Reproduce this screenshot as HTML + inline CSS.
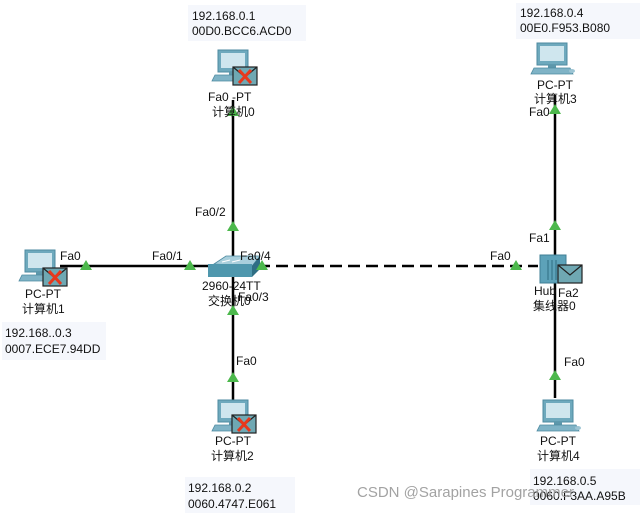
<!DOCTYPE html>
<html><head><meta charset="utf-8"><style>
html,body{margin:0;padding:0;background:#fff;}
svg text{font-family:"Liberation Sans","Noto Sans CJK SC",sans-serif;font-size:12px;fill:#111;}
</style></head><body>
<svg width="640" height="513" viewBox="0 0 640 513" xmlns="http://www.w3.org/2000/svg">
<defs>
<g id="pc">
 <rect x="0" y="0" width="30" height="22" fill="#6ea9bd" stroke="#4d8aa0"/>
 <rect x="3" y="3" width="24" height="15" fill="#cfe6ee"/>
 <rect x="11" y="22" width="8" height="3" fill="#5d97ab"/>
 <polygon points="-3,25 33,25 36,31 -6,31" fill="#7fb3c6" stroke="#4d8aa0" stroke-width="0.8"/>
 <ellipse cx="35" cy="28" rx="3" ry="2" fill="#9cc4d3"/>
</g>
<g id="env">
 <rect x="0" y="0" width="24" height="18" fill="#6fa8b3" stroke="#222" stroke-width="1.2"/>
 <polyline points="0,0 12,10 24,0" fill="none" stroke="#222" stroke-width="1.2"/>
</g>
<g id="x">
 <line x1="4" y1="2" x2="16" y2="15" stroke="#e8381d" stroke-width="3"/>
 <line x1="16" y1="2" x2="4" y2="15" stroke="#e8381d" stroke-width="3"/>
</g>
<polygon id="tri" points="0,-6 6,4 -6,4" fill="#4cb84c"/>
</defs>

<!-- links -->
<line x1="233" y1="100" x2="233" y2="257" stroke="#000" stroke-width="2.5"/>
<line x1="60" y1="266" x2="208" y2="266" stroke="#000" stroke-width="2.5"/>
<line x1="233" y1="277" x2="233" y2="400" stroke="#000" stroke-width="2.5"/>
<line x1="258" y1="266" x2="538" y2="266" stroke="#000" stroke-width="2.5" stroke-dasharray="12,6"/>
<line x1="555" y1="95" x2="555" y2="256" stroke="#000" stroke-width="2.5"/>
<line x1="555" y1="283" x2="555" y2="398" stroke="#000" stroke-width="2.5"/>

<!-- info boxes -->
<rect x="188" y="5" width="118" height="36" fill="#f5f7fc"/>
<text x="192" y="20">192.168.0.1</text><text x="192" y="35">00D0.BCC6.ACD0</text>
<rect x="516" y="3" width="124" height="36" fill="#f5f7fc"/>
<text x="520" y="17">192.168.0.4</text><text x="520" y="32">00E0.F953.B080</text>
<rect x="2" y="322" width="104" height="38" fill="#f5f7fc"/>
<text x="5" y="337">192.168..0.3</text><text x="5" y="353">0007.ECE7.94DD</text>
<rect x="185" y="477" width="110" height="36" fill="#f5f7fc"/>
<text x="188" y="492">192.168.0.2</text><text x="188" y="508">0060.4747.E061</text>
<rect x="530" y="469" width="110" height="36" fill="#f5f7fc"/>
<text x="533" y="485">192.168.0.5</text><text x="533" y="500">0060.F3AA.A95B</text>

<!-- PCs -->
<use href="#pc" x="218" y="50"/>
<use href="#env" x="233" y="67"/><use href="#x" x="235" y="68"/>
<use href="#pc" x="25" y="250"/>
<use href="#env" x="43" y="268"/><use href="#x" x="45" y="269"/>
<use href="#pc" x="218" y="400"/>
<use href="#env" x="232" y="415"/><use href="#x" x="234" y="416"/>
<use href="#pc" x="537" y="43"/>
<use href="#pc" x="543" y="400"/>

<!-- switch -->
<polygon points="214,264 226,256 260,256 252,266" fill="#a9cfdc" stroke="#4d8aa0" stroke-width="0.8"/>
<rect x="208" y="264" width="44" height="13" fill="#4f97ad"/>
<polygon points="252,266 260,256 260,269 252,277" fill="#2f6e84"/>
<line x1="222" y1="262" x2="230" y2="260" stroke="#fff"/>
<line x1="232" y1="262" x2="240" y2="260" stroke="#fff"/>

<!-- hub -->
<rect x="540" y="255" width="26" height="28" fill="#5da2b9" stroke="#3f7f95"/>
<line x1="548" y1="260" x2="548" y2="280" stroke="#2f6e84"/>
<line x1="552" y1="260" x2="552" y2="280" stroke="#2f6e84"/>
<line x1="556" y1="260" x2="556" y2="280" stroke="#2f6e84"/>
<use href="#env" x="558" y="265"/>

<!-- triangles -->
<use href="#tri" x="233" y="112"/>
<use href="#tri" x="233" y="227"/>
<use href="#tri" x="86" y="266"/>
<use href="#tri" x="190" y="266"/>
<use href="#tri" x="262" y="266"/>
<use href="#tri" x="233" y="311"/>
<use href="#tri" x="233" y="378"/>
<use href="#tri" x="516" y="266"/>
<use href="#tri" x="555" y="110"/>
<use href="#tri" x="555" y="226"/>
<use href="#tri" x="555" y="376"/>

<!-- labels -->
<text x="208" y="101">Fa0 -PT</text><text x="212" y="116">计算机0</text>
<text x="195" y="216">Fa0/2</text>
<text x="60" y="260">Fa0</text>
<text x="152" y="260">Fa0/1</text>
<text x="240" y="260">Fa0/4</text>
<text x="202" y="290">2960-24TT</text><text x="208" y="305">交换机0</text>
<text x="238" y="301">Fa0/3</text>
<text x="236" y="365">Fa0</text>
<text x="25" y="298">PC-PT</text><text x="22" y="313">计算机1</text>
<text x="215" y="445">PC-PT</text><text x="211" y="460">计算机2</text>
<text x="537" y="89">PC-PT</text><text x="534" y="103">计算机3</text>
<text x="529" y="116">Fa0</text>
<text x="529" y="242">Fa1</text>
<text x="490" y="260">Fa0</text>
<text x="534" y="295">Hub</text><text x="558" y="297">Fa2</text>
<text x="533" y="310">集线器0</text>
<text x="564" y="366">Fa0</text>
<text x="540" y="445">PC-PT</text><text x="537" y="460">计算机4</text>

<text x="357" y="497" style="font-size:15px;fill:#999;opacity:0.9">CSDN @Sarapines Programmer</text>
</svg>
</body></html>
